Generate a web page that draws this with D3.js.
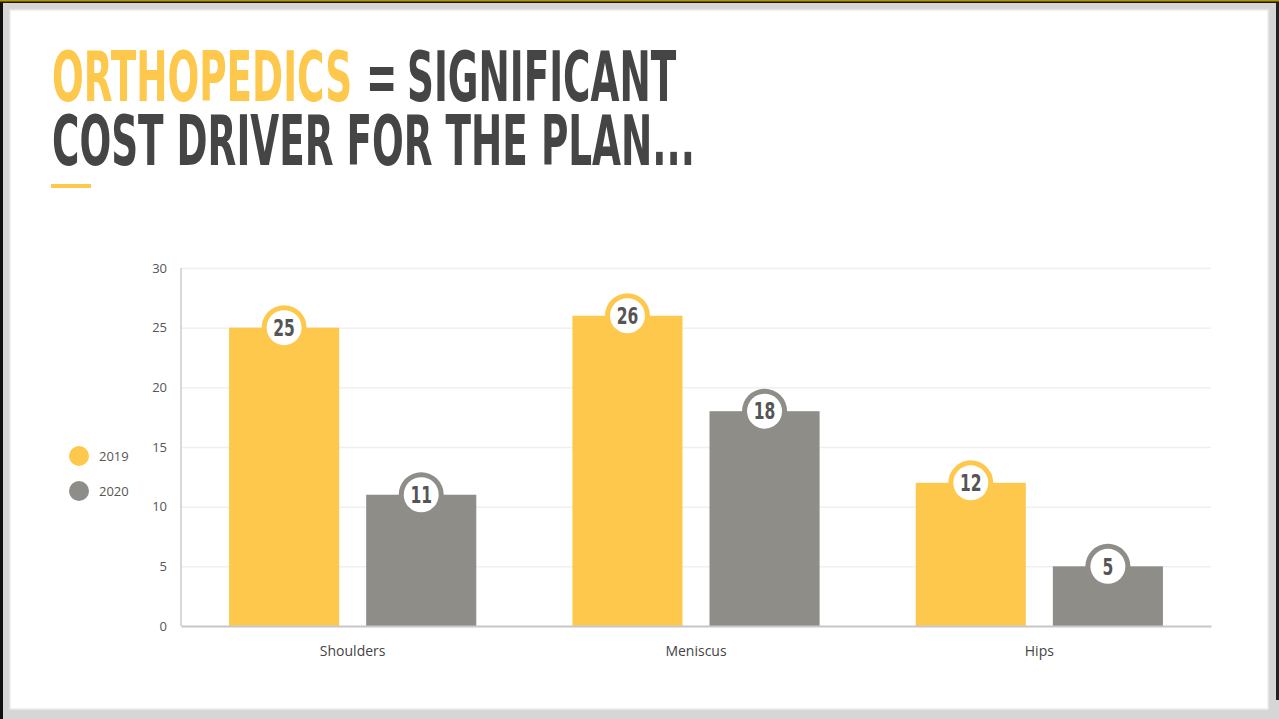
<!DOCTYPE html>
<html>
<head>
<meta charset="utf-8">
<script src="https://cdn.jsdelivr.net/npm/d3@7/dist/d3.min.js"></script>
<style>
  html, body { margin: 0; padding: 0; background: #ffffff; }
  svg { display: block; }
</style>
</head>
<body>
<svg id="chart" width="1279" height="719"></svg>
<script>
// Chart data
const categories = ["Shoulders", "Meniscus", "Hips"];
const seriesNames = ["2019", "2020"];
const values2019 = [25, 26, 12];
const values2020 = [11, 18, 5];
const yTicks = [0, 5, 10, 15, 20, 25, 30];
const seriesColors = ["#FDC84B", "#8F8D88"];

const svg = d3.select("#chart");
const W = 1279, H = 719;

// Slide frame
svg.append("rect").attr("x", 0).attr("y", 0).attr("width", W).attr("height", H).attr("fill", "#d6d6d6");
svg.append("rect").attr("x", 10).attr("y", 10).attr("width", W - 21).attr("height", H - 20)
  .attr("fill", "#ffffff").attr("stroke", "#ececec").attr("stroke-width", 1.5);
svg.append("rect").attr("x", 0).attr("y", 0).attr("width", 3).attr("height", H).attr("fill", "#111");
svg.append("rect").attr("x", W - 3).attr("y", 0).attr("width", 3).attr("height", 700).attr("fill", "#222");
svg.append("rect").attr("x", 0).attr("y", 0).attr("width", W).attr("height", 3).attr("fill", "#1a1a1a");
svg.append("rect").attr("x", 0).attr("y", 0).attr("width", W).attr("height", 1.5).attr("fill", "#b49500");

// Title: one condensed text block, squeezed horizontally
const titleFont = "'DejaVu Sans Condensed', 'Liberation Sans Narrow', 'Roboto', sans-serif";
const line2 = "COST DRIVER FOR THE PLAN...";
const probe = svg.append("text").attr("font-family", titleFont).attr("font-weight", 700)
  .attr("font-size", 69).text(line2);
const sx = 643 / probe.node().getComputedTextLength();
probe.remove();

const title = svg.append("text")
  .attr("font-family", titleFont).attr("font-weight", 700).attr("font-size", 69)
  .attr("transform", `translate(52,101) scale(${sx},1)`);
title.append("tspan").attr("x", 0).attr("y", 0).attr("fill", "#FDC84B").text("ORTHOPEDICS");
title.append("tspan").attr("x", (366 - 52) / sx).attr("y", 0).attr("fill", "#454545").text("=");
title.append("tspan").attr("x", (407 - 52) / sx).attr("y", 0).attr("fill", "#454545").text("SIGNIFICANT");
title.append("tspan").attr("x", 0).attr("y", 64).attr("fill", "#454545").text(line2);
svg.append("rect").attr("x", 51).attr("y", 184).attr("width", 40).attr("height", 4).attr("fill", "#FDC84B");

// Plot area
const plot = { left: 181, right: 1211, top: 268, bottom: 626 };

const x0 = d3.scaleBand().domain(categories).range([plot.left, plot.right]).paddingInner(0.28).paddingOuter(0.14);
const x1 = d3.scaleBand().domain(seriesNames).range([0, x0.bandwidth()]).paddingInner(0.197);
const y = d3.scaleLinear().domain([0, 30]).range([plot.bottom, plot.top]);

// Gridlines
const grid = svg.append("g").attr("transform", `translate(${plot.left},0)`)
  .call(d3.axisLeft(y).tickValues(yTicks).tickSize(-(plot.right - plot.left)).tickFormat(""));
grid.select(".domain").remove();
grid.selectAll(".tick line").attr("stroke", "#f0f0f0").attr("stroke-width", 1.5);

// Y axis labels
const yAxis = svg.append("g").attr("transform", `translate(${plot.left},0)`)
  .call(d3.axisLeft(y).tickValues(yTicks).tickSize(0).tickPadding(14));
yAxis.select(".domain").remove();
yAxis.selectAll(".tick text").attr("font-family", "'Open Sans', 'Noto Sans', sans-serif")
  .attr("font-size", 13).attr("fill", "#555");

// Bars
const rows = categories.map((c, i) => ({ category: c, values: [values2019[i], values2020[i]] }));
const groups = svg.append("g").selectAll("g").data(rows).join("g")
  .attr("transform", d => `translate(${x0(d.category)},0)`);

groups.selectAll("rect").data(d => d.values.map((v, k) => ({ series: seriesNames[k], value: v, k })))
  .join("rect")
  .attr("x", d => x1(d.series))
  .attr("y", d => y(d.value))
  .attr("width", x1.bandwidth())
  .attr("height", d => y(0) - y(d.value))
  .attr("fill", d => seriesColors[d.k]);

// Axis lines
svg.append("line").attr("x1", plot.left).attr("x2", plot.left).attr("y1", plot.top).attr("y2", plot.bottom)
  .attr("stroke", "#cccccc").attr("stroke-width", 1.5);
const xAxis = svg.append("g").attr("transform", `translate(0,${plot.bottom})`)
  .call(d3.axisBottom(x0).tickSize(0).tickPadding(20));
xAxis.select(".domain").attr("stroke", "#c8c8c8").attr("stroke-width", 2);
xAxis.selectAll(".tick text").attr("font-family", "'Open Sans', 'Noto Sans', sans-serif")
  .attr("font-size", 14).attr("fill", "#444");

// Value badges
const badges = groups.selectAll("g.badge").data(d => d.values.map((v, k) => ({ series: seriesNames[k], value: v, k })))
  .join("g").attr("class", "badge")
  .attr("transform", d => `translate(${x1(d.series) + x1.bandwidth() / 2},${y(d.value)})`);
badges.append("circle").attr("r", 22.5).attr("fill", d => seriesColors[d.k]);
badges.append("circle").attr("r", 17.5).attr("fill", "#ffffff");
badges.append("text")
  .attr("text-anchor", "middle").attr("dy", "0.36em")
  .attr("transform", "scale(0.75,1)")
  .attr("font-family", titleFont).attr("font-weight", 700).attr("font-size", 23)
  .attr("fill", "#555555")
  .text(d => d.value);

// Legend
const legend = svg.append("g").selectAll("g").data(seriesNames).join("g")
  .attr("transform", (d, i) => `translate(79,${456 + i * 35})`);
legend.append("circle").attr("r", 10).attr("fill", (d, i) => seriesColors[i]);
legend.append("text").attr("x", 20).attr("dy", "0.35em")
  .attr("font-family", "'Open Sans', 'Noto Sans', sans-serif").attr("font-size", 13).attr("fill", "#555")
  .text(d => d);
</script>
</body>
</html>
